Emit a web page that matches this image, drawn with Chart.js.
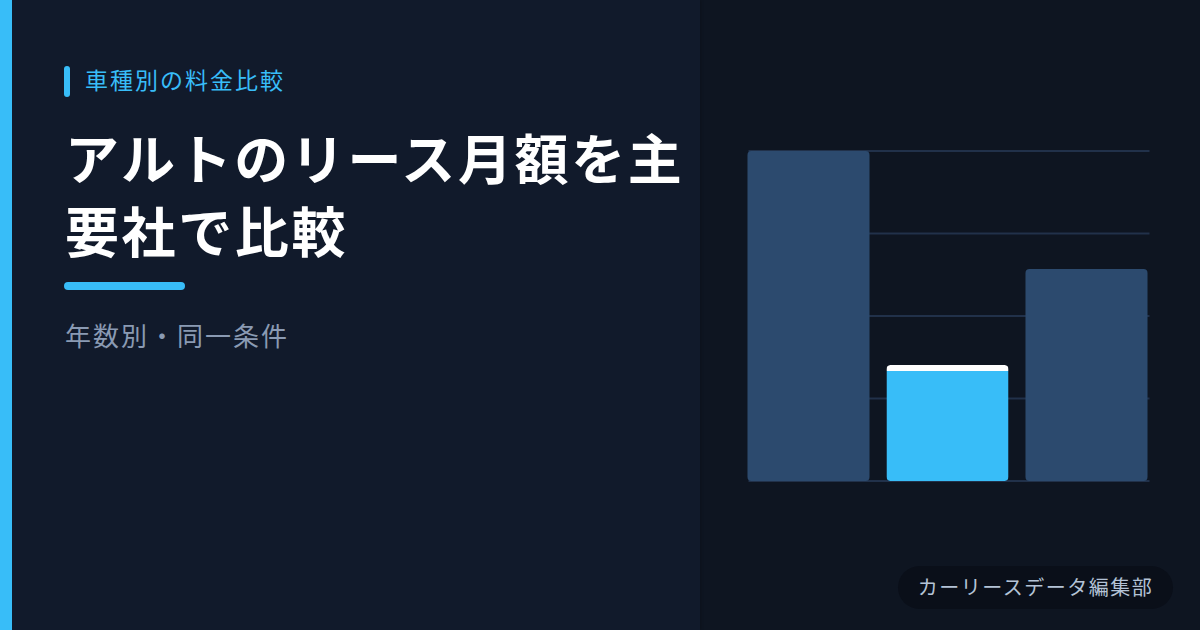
<!DOCTYPE html>
<html lang="ja">
<head>
<meta charset="utf-8">
<script src="https://cdn.jsdelivr.net/npm/chart.js@4.4.1/dist/chart.umd.min.js"></script>
<style>
  html, body { margin: 0; padding: 0; }
  body {
    width: 1200px; height: 630px; overflow: hidden; position: relative;
    background: #0e1521;
    font-family: "Noto Sans CJK JP", "Noto Sans", sans-serif;
  }
  #left {
    position: absolute; left: 0; top: 0; width: 700px; height: 630px;
    background: #111a2b;
    box-shadow: 1px 0 3px rgba(0,0,0,0.18);
  }
  #stripe { position: absolute; left: 0; top: 0; width: 12px; height: 630px; background: #38bdf8; }
  #tagbar { position: absolute; left: 64px; top: 66px; width: 6px; height: 31px; border-radius: 3px; background: #38bdf8; }
  #tag {
    position: absolute; left: 85px; top: 64px; line-height: 30px;
    font-size: 23px; letter-spacing: 2px; color: #38bdf8;
  }
  #title {
    position: absolute; left: 65px; top: 120px; width: 640px;
    font-size: 54px; font-weight: 700; line-height: 73px; letter-spacing: 2.6px; color: #ffffff;
  }
  #rule { position: absolute; left: 64px; top: 282px; width: 121px; height: 8px; border-radius: 4px; background: #38bdf8; }
  #sub {
    position: absolute; left: 65px; top: 319px; line-height: 32px;
    font-size: 26px; letter-spacing: 2px; color: #8a9ab3;
  }
  #chartBox { position: absolute; left: 718.5px; top: 131px; width: 457px; height: 370px; }
  #credit {
    position: absolute; left: 898px; top: 566px; width: 275px; height: 43px;
    border-radius: 22px; background: #0a0f19;
    text-align: center; line-height: 41px;
    font-size: 20px; letter-spacing: 1.5px; color: #b4c3d6;
  }
</style>
</head>
<body>
<div id="left">
  <div id="stripe"></div>
  <div id="tagbar"></div>
  <div id="tag">車種別の料金比較</div>
  <div id="title">アルトのリース月額を主要社で比較</div>
  <div id="rule"></div>
  <div id="sub">年数別・同一条件</div>
</div>
<div id="chartBox"><canvas id="myChart"></canvas></div>
<div id="credit">カーリースデータ編集部</div>

<script>
// 3社の月額 (円) - 軸ラベルは非表示なので値は比率から推定
var companies = ["A社", "B社", "C社"];
var monthly = [16500, 5800, 10600];
var barColors = ["#2c4a6e", "#38bdf8", "#2c4a6e"];
var highlight = 1;

var yMax = Math.max.apply(null, monthly);

// y軸の目盛に合わせて横線を引く (左右の端を少し詰める)
var gridPlugin = {
  id: 'insetGrid',
  beforeDatasetsDraw: function(chart){
    var ctx = chart.ctx;
    var y = chart.scales.y;
    var area = chart.chartArea;
    ctx.save();
    ctx.strokeStyle = "#21314a";
    ctx.lineWidth = 2;
    y.ticks.forEach(function(t){
      var py = y.getPixelForValue(t.value);
      ctx.beginPath();
      ctx.moveTo(area.left + 9.5, py);
      ctx.lineTo(area.right - 6.5, py);
      ctx.stroke();
    });
    ctx.restore();
  }
};

var ctx = document.getElementById("myChart");
var myChart = new Chart(ctx, {
  type: 'bar',
  data: {
    labels: companies,
    datasets: [{
      data: monthly,
      backgroundColor: barColors,
      borderColor: "#ffffff",
      borderWidth: monthly.map(function(v, i){
        return i === highlight ? {top: 6, left: 0, right: 0, bottom: 0} : 0;
      }),
      borderSkipped: false,
      borderRadius: 4,
      barPercentage: 0.878,
      categoryPercentage: 1
    }]
  },
  options: {
    responsive: true,
    maintainAspectRatio: false,
    animation: false,
    layout: { padding: 20 },
    plugins: { legend: { display: false }, tooltip: { enabled: false } },
    scales: {
      x: { display: false, offset: true },
      y: {
        display: false,
        min: 0,
        max: yMax,
        ticks: { stepSize: yMax / 4 }
      }
    }
  },
  plugins: [gridPlugin]
});
</script>
</body>
</html>
